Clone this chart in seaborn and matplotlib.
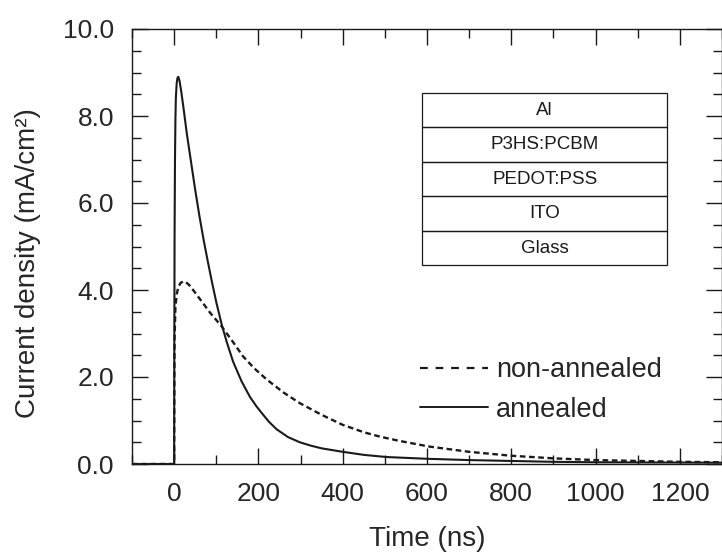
import matplotlib
matplotlib.use("Agg")
import matplotlib.pyplot as plt
from matplotlib.lines import Line2D
from matplotlib.patches import Rectangle
import seaborn as sns
import pandas as pd

# ---------------- data ----------------
t_annealed = [-100, -50, -1, 0, 0.5, 1, 2, 3, 4, 6, 8, 10, 13, 17, 22, 30, 40, 50, 60,
              70, 80, 90, 100, 113, 125, 140, 160, 180, 195, 208, 225, 243, 270, 298,
              325, 350, 400, 450, 504, 600, 700, 800, 900, 1000, 1150, 1300]
j_annealed = [0.0, 0.0, 0.0, 0.0, 3.0, 5.2, 7.0, 7.9, 8.4, 8.75, 8.88, 8.9, 8.8,
              8.55, 8.2, 7.6, 6.95, 6.3, 5.7, 5.15, 4.65, 4.17, 3.72, 3.2, 2.8, 2.35,
              1.9, 1.54, 1.33, 1.17, 0.97, 0.80, 0.62, 0.50, 0.42, 0.36, 0.28, 0.21,
              0.16, 0.12, 0.09, 0.07, 0.05, 0.04, 0.035, 0.03]

t_nonannealed = [-100, -50, -1, 0, 0.5, 1, 3, 6, 10, 15, 22, 28, 35, 45, 55, 66, 85,
                 100, 113, 140, 163, 190, 220, 260, 298, 350, 400, 450, 488, 535, 606,
                 700, 800, 900, 1000, 1100, 1200, 1300]
j_nonannealed = [0.0, 0.0, 0.0, 0.0, 2.0, 2.9, 3.6, 3.9, 4.07, 4.16, 4.2, 4.18, 4.12,
                 4.0, 3.87, 3.73, 3.48, 3.31, 3.16, 2.8, 2.48, 2.2, 1.94, 1.64, 1.40,
                 1.13, 0.90, 0.73, 0.63, 0.53, 0.40, 0.28, 0.19, 0.13, 0.09, 0.07,
                 0.05, 0.04]

series_labels = ["non-annealed", "annealed"]
layer_labels = ["Al", "P3HS:PCBM", "PEDOT:PSS", "ITO", "Glass"]
x_ticks = [0, 200, 400, 600, 800, 1000, 1200]
y_ticks = [0.0, 2.0, 4.0, 6.0, 8.0, 10.0]

# ---------------- style ----------------
sns.set_theme(style="ticks")
plt.rcParams["font.family"] = ["Liberation Sans", "DejaVu Sans"]
plt.rcParams["axes.linewidth"] = 1.0

fig = plt.figure(figsize=(7.22, 5.6), dpi=100)
ax = fig.add_axes([132 / 722, 96 / 560, 590 / 722, 435 / 560])

df_a = pd.DataFrame({"t": t_annealed, "j": j_annealed})
df_n = pd.DataFrame({"t": t_nonannealed, "j": j_nonannealed})

sns.lineplot(data=df_n, x="t", y="j", ax=ax, color="#1a1a1a", lw=1.7,
             estimator=None, sort=False)
ax.lines[-1].set_dashes((2.4, 1.5))
sns.lineplot(data=df_a, x="t", y="j", ax=ax, color="#1a1a1a", lw=1.5,
             estimator=None, sort=False)

ax.set_xlim(-100, 1300)
ax.set_ylim(0, 10)
ax.set_xticks(x_ticks)
ax.set_xticks(range(-100, 1301, 100), minor=True)
ax.set_yticks(y_ticks)
ax.set_yticks([v / 2 for v in range(0, 21)], minor=True)
ax.set_yticklabels([f"{v:.1f}" for v in y_ticks])
ax.tick_params(which="both", direction="in", top=True, right=True,
               labelsize=19, color="#1a1a1a", width=1.0)
ax.tick_params(which="major", length=11.5, pad=13)
ax.tick_params(which="minor", length=6.5)
for s in ax.spines.values():
    s.set_color("#1a1a1a")

ax.set_xlabel("Time (ns)", fontsize=20, labelpad=14)
ax.set_ylabel("Current density (mA/cm²)", fontsize=20)
ax.yaxis.set_label_coords(-0.155, 0.462)

# ---------------- device-stack inset ----------------
x0, x1 = 0.492, 0.907
y_top, row_h = 0.853, 0.0793
for i, lab in enumerate(layer_labels):
    yb = y_top - (i + 1) * row_h
    ax.add_patch(Rectangle((x0, yb), x1 - x0, row_h, transform=ax.transAxes,
                           fill=False, lw=0.9, ec="#1a1a1a"))
    ax.text((x0 + x1) / 2, yb + row_h / 2, lab, transform=ax.transAxes,
            ha="center", va="center", fontsize=13.5, color="#1a1a1a")

# ---------------- legend ----------------
handles = [Line2D([], [], color="#1a1a1a", lw=1.6, dashes=(3.5, 3.5)),
           Line2D([], [], color="#1a1a1a", lw=1.4)]
ax.legend(handles, series_labels, loc="upper left", bbox_to_anchor=(0.488, 0.246),
          frameon=False, fontsize=19.5, handlelength=2.5, handletextpad=0.3,
          borderpad=0, borderaxespad=0, labelspacing=0.5)

fig.savefig("out.png", dpi=100)
